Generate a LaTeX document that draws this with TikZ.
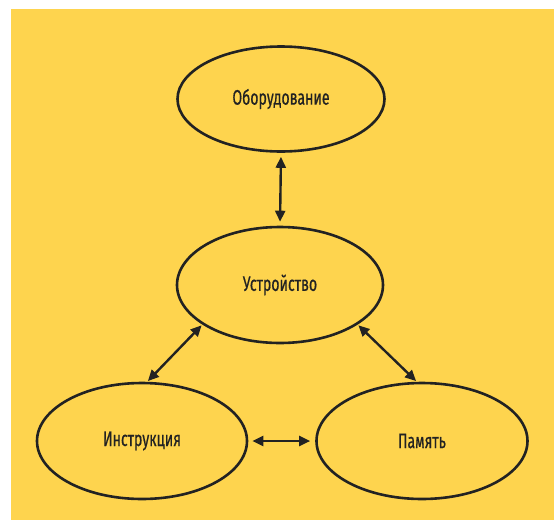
\documentclass[tikz,border=0pt]{standalone}
\usepackage{fontspec}
\setmainfont[FakeStretch=0.67,FakeBold=0.6]{Fira Sans}
\usetikzlibrary{shapes.geometric,arrows.meta}
\definecolor{bgyellow}{HTML}{FED44E}
\definecolor{ink}{HTML}{222222}
\tikzset{
  oval/.style={ellipse, draw=ink, line width=2.6pt, inner sep=0pt, text=ink, font=\fontsize{21}{25}\selectfont},
  arr/.style={draw=ink, line width=2.4pt, {Triangle[length=11pt,width=10pt]}-{Triangle[length=11pt,width=10pt]}}
}
\begin{document}
\begin{tikzpicture}[x=1pt,y=-1pt]
\useasboundingbox (0,0) rectangle (555,520);
\fill[bgyellow] (11,9) rectangle (554,520);
\node[oval, minimum width=207pt, minimum height=105pt] (hw) at (281,99) {Оборудование};
\node[oval, minimum width=206pt, minimum height=116pt] (dev) at (280,285) {Устройство};
\node[oval, minimum width=210pt, minimum height=116pt] (ins) at (142,441) {Инструкция};
\node[oval, minimum width=211pt, minimum height=116pt] (mem) at (422,441) {\raisebox{-3pt}{Память}};
\draw[arr, shorten <=4pt, shorten >=4pt] (hw.south) -- (dev.north);
\draw[arr, shorten <=1pt, shorten >=1pt] (dev.207) -- (ins.85);
\draw[arr, shorten <=1pt, shorten >=1pt] (dev.333) -- (mem.95);
\draw[arr, shorten <=4pt, shorten >=5pt] (ins.east) -- (mem.west);
\end{tikzpicture}
\end{document}
